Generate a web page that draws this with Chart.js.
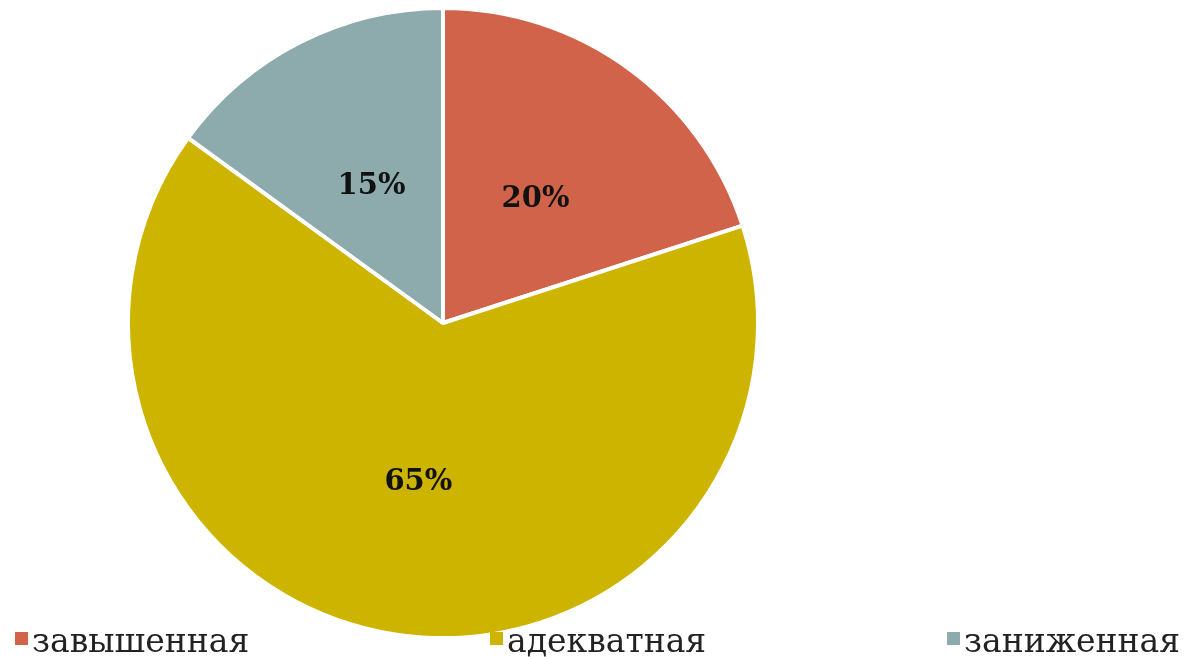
<!DOCTYPE html>
<html>
<head>
<meta charset="utf-8">
<script src="https://cdn.jsdelivr.net/npm/chart.js@4/dist/chart.umd.min.js"></script>
<style>
  html, body { margin: 0; padding: 0; background: #fff; }
  #wrap { position: relative; width: 1190px; height: 659px; overflow: hidden; }
  #box { position: absolute; left: 0; top: 0; width: 886px; height: 646px; }
  #legend {
    position: absolute; left: 15px; right: 10px; top: 624px;
    display: flex; justify-content: space-between;
    font-family: "DejaVu Serif", serif; font-size: 33px; line-height: 1; color: #222;
  }
  #legend span { display: flex; align-items: center; white-space: nowrap; }
  #legend i { display: inline-block; width: 13px; height: 13px; margin-right: 4px; position: relative; top: -2px; }
</style>
</head>
<body>
<div id="wrap">
  <div id="box"><canvas id="myChart"></canvas></div>
  <div id="legend"></div>
</div>
<script>
const categories = ['завышенная', 'адекватная', 'заниженная']
const shares = [20, 65, 15]
const sliceColors = ['#D2634B', '#CDB400', '#8DAAAD']

// legend in html, spread across the full width like in the picture
const legend = document.getElementById('legend')
categories.forEach((name, i) => {
  const item = document.createElement('span')
  item.innerHTML = '<i style="background:' + sliceColors[i] + '"></i>' + name
  legend.appendChild(item)
})

// draw the percent labels in the middle of each slice
const sliceLabels = {
  id: 'sliceLabels',
  afterDatasetsDraw(chart) {
    const ctx = chart.ctx
    const meta = chart.getDatasetMeta(0)
    ctx.save()
    ctx.font = 'bold 29px "DejaVu Serif", serif'
    ctx.fillStyle = '#111'
    ctx.textAlign = 'center'
    ctx.textBaseline = 'middle'
    meta.data.forEach((arc, i) => {
      const pos = arc.tooltipPosition()
      ctx.fillText(shares[i] + '%', pos.x, pos.y + 4)
    })
    ctx.restore()
  },
}

const config = {
  type: 'pie',
  data: {
    labels: categories,
    datasets: [
      {
        data: shares,
        backgroundColor: sliceColors,
        borderColor: '#fff',
        borderWidth: 4,
      },
    ],
  },
  options: {
    responsive: true,
    maintainAspectRatio: false,
    animation: false,
    layout: { padding: { top: 6, bottom: 6 } },
    plugins: {
      legend: { display: false },
      tooltip: { enabled: false },
    },
  },
  plugins: [sliceLabels],
}

var myChart = new Chart(document.getElementById('myChart'), config)
</script>
</body>
</html>
